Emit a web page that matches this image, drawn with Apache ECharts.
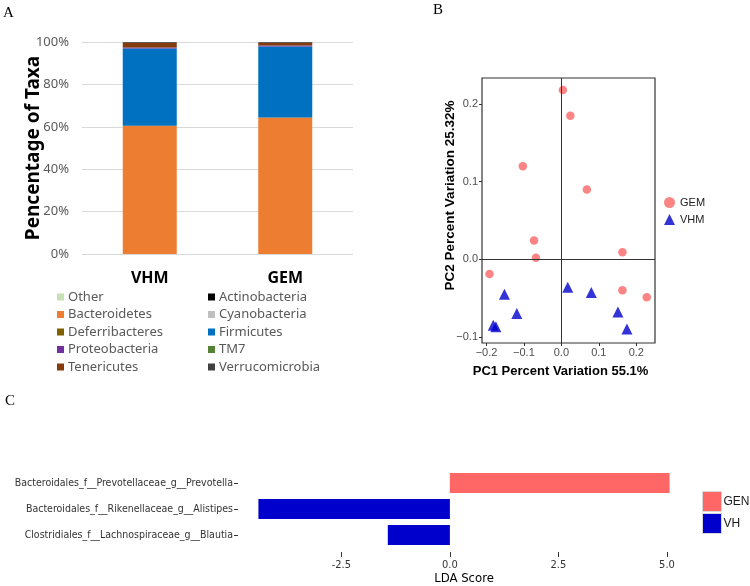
<!DOCTYPE html>
<html><head><meta charset="utf-8">
<script src="https://cdn.jsdelivr.net/npm/echarts@6/dist/echarts.min.js"></script>
<style>html,body{margin:0;padding:0;background:#fff}#c{width:750px;height:586px}</style>
</head><body><div id="c"></div>
<script>
// ---- Panel A data ----
const groupsA = ['VHM', 'GEM'];
const taxa = ['Other', 'Actinobacteria', 'Bacteroidetes', 'Cyanobacteria', 'Deferribacteres',
  'Firmicutes', 'Proteobacteria', 'TM7', 'Tenericutes', 'Verrucomicrobia'];
const taxaVHM = [0, 0.05, 60.3, 0.05, 0.1, 36.4, 0.5, 0.05, 2.2, 0.35];
const taxaGEM = [0, 0.05, 64.2, 0.05, 0.1, 33.5, 0.4, 0.05, 1.3, 0.35];
const legendLeftCol = ['Other', 'Bacteroidetes', 'Deferribacteres', 'Proteobacteria', 'Tenericutes'];
const legendRightCol = ['Actinobacteria', 'Cyanobacteria', 'Firmicutes', 'TM7', 'Verrucomicrobia'];

// ---- Panel B data ----
const gemPC1 = [0.004, 0.024, -0.103, 0.068, -0.073, -0.068, 0.163, -0.192, 0.163, 0.228];
const gemPC2 = [0.218, 0.185, 0.120, 0.090, 0.024, 0.002, 0.009, -0.019, -0.040, -0.049];
const vhmPC1 = [-0.152, -0.119, -0.182, -0.175, 0.017, 0.080, 0.151, 0.175];
const vhmPC2 = [-0.045, -0.070, -0.085, -0.087, -0.036, -0.043, -0.068, -0.090];
const pcTicksX = [-0.2, -0.1, 0.0, 0.1, 0.2];
const pcTicksY = [-0.1, 0.0, 0.1, 0.2];

// ---- Panel C data ----
const ldaTaxa = ['Bacteroidales_f__Prevotellaceae_g__Prevotella',
  'Bacteroidales_f__Rikenellaceae_g__Alistipes',
  'Clostridiales_f__Lachnospiraceae_g__Blautia'];
const ldaScores = [5.06, -4.41, -1.43];
const ldaClass = ['GEN', 'VH', 'VH'];
const ldaTicks = [-2.5, 0.0, 2.5, 5.0];

// ---- styles ----
const taxaColors = {
  'Other': '#C5E0B4', 'Actinobacteria': '#000000', 'Bacteroidetes': '#ED7D31',
  'Cyanobacteria': '#BFBFBF', 'Deferribacteres': '#7F6000', 'Firmicutes': '#0070C0',
  'Proteobacteria': '#7030A0', 'TM7': '#548235', 'Tenericutes': '#843C0C',
  'Verrucomicrobia': '#404040'
};
const RED = '#FA6767', BLUE = '#0000CC';
const fmtMinus = v => (v < 0 ? '\u2212' : '') + Math.abs(v).toFixed(1);
const letterStyle = {fontFamily: 'Liberation Serif', fontSize: 15, fontWeight: 'normal', color: '#000'};
const hiddenLine = {show: true, onZero: false, lineStyle: {color: 'rgba(0,0,0,0)', width: 0}};

const chart = echarts.init(document.getElementById('c'), null, {renderer: 'canvas'});

const seriesA = taxa.map((t, i) => ({
  name: t, type: 'bar', stack: 'taxa', xAxisIndex: 0, yAxisIndex: 0,
  barWidth: 54, itemStyle: {color: taxaColors[t]},
  data: [taxaVHM[i], taxaGEM[i]]
}));

const legendA = (names, left) => ({
  data: names, orient: 'vertical', left: left, top: 290, padding: 0, icon: 'rect',
  itemWidth: 7, itemHeight: 7, itemGap: 3.5, selectedMode: false,
  textStyle: {fontFamily: 'Noto Sans', fontSize: 13, color: '#595959', padding: [0, 0, 0, -1], lineHeight: 14}
});

const option = {
  animation: false,
  backgroundColor: '#fff',
  title: [
    {text: 'A', left: 3, top: 6, padding: 0, textStyle: letterStyle},
    {text: 'B', left: 433, top: 3, padding: 0, textStyle: letterStyle},
    {text: 'C', left: 5, top: 394, padding: 0, textStyle: letterStyle}
  ],
  legend: [
    legendA(legendLeftCol, 57),
    legendA(legendRightCol, 208),
    {data: ['GEM', 'VHM'], orient: 'vertical', left: 664, top: 197, padding: 0, itemWidth: 11, itemHeight: 11, itemGap: 6,
      selectedMode: false, textStyle: {fontFamily: 'Liberation Sans', fontSize: 11, color: '#222'}},
    {data: ['GEN', 'VH'], orient: 'vertical', left: 702, top: 491, padding: 0, icon: 'rect', itemWidth: 19, itemHeight: 20, itemGap: 1,
      selectedMode: false, itemStyle: {borderColor: '#d8d8d8', borderWidth: 1},
      textStyle: {fontFamily: 'Liberation Sans', fontSize: 12, color: '#1a1a1a', padding: [0, 0, 0, -3]}}
  ],
  grid: [
    {left: 82, top: 42, width: 271, height: 212},
    {left: 482, top: 78, width: 173, height: 265, show: true, borderColor: '#333', borderWidth: 1.2},
    {left: 238, top: 470, width: 452, height: 78}
  ],
  xAxis: [
    {type: 'category', gridIndex: 0, data: groupsA,
      axisLine: {show: false, onZero: false}, axisTick: {show: false},
      axisLabel: {margin: 16, fontFamily: 'Noto Sans', fontWeight: 'bold', fontSize: 16, color: '#000'}},
    {type: 'value', gridIndex: 1, min: -0.212, max: 0.25,
      axisLine: hiddenLine, splitLine: {show: false},
      axisTick: {show: true, length: 3, customValues: pcTicksX, lineStyle: {color: '#333'}},
      axisLabel: {customValues: pcTicksX, formatter: fmtMinus, margin: 4, fontFamily: 'Liberation Sans', fontSize: 11, color: '#4d4d4d'},
      name: 'PC1 Percent Variation 55.1%', nameLocation: 'middle', nameGap: 22, nameMoveOverlap: false,
      nameTextStyle: {fontFamily: 'Liberation Sans', fontWeight: 'bold', fontSize: 13, color: '#000', padding: [0, 16, 0, 0]}},
    {type: 'value', gridIndex: 2, min: -4.88, max: 5.53, offset: 4,
      axisLine: hiddenLine, splitLine: {show: false},
      axisTick: {show: true, length: 5, customValues: ldaTicks, lineStyle: {color: '#333', width: 1}},
      axisLabel: {customValues: ldaTicks, formatter: v => v.toFixed(1), margin: 8,
        fontFamily: 'Liberation Sans Narrow, DejaVu Sans Condensed', fontSize: 11, color: '#333'},
      name: 'LDA Score', nameLocation: 'middle', nameGap: 20, nameMoveOverlap: false,
      nameTextStyle: {fontFamily: 'Liberation Sans Narrow, DejaVu Sans Condensed', fontSize: 13, color: '#000'}}
  ],
  yAxis: [
    {type: 'value', gridIndex: 0, min: 0, max: 100, interval: 20,
      axisLine: {show: false, onZero: false}, axisTick: {show: false},
      splitLine: {lineStyle: {color: '#D9D9D9', width: 1}},
      axisLabel: {formatter: '{value}%', margin: 13, fontFamily: 'Noto Sans', fontSize: 13, color: '#595959'},
      name: 'Pencentage of Taxa', nameLocation: 'middle', nameGap: 39, nameMoveOverlap: false,
      nameTextStyle: {fontFamily: 'Noto Sans', fontWeight: 'bold', fontSize: 19, color: '#000'}},
    {type: 'value', gridIndex: 1, min: -0.108, max: 0.2336,
      axisLine: hiddenLine, splitLine: {show: false},
      axisTick: {show: true, length: 3, customValues: pcTicksY, lineStyle: {color: '#333'}},
      axisLabel: {customValues: pcTicksY, formatter: fmtMinus, margin: 4, fontFamily: 'Liberation Sans', fontSize: 11, color: '#4d4d4d'},
      name: 'PC2 Percent Variation 25.32%', nameLocation: 'middle', nameGap: 25, nameMoveOverlap: false,
      nameTextStyle: {fontFamily: 'Liberation Sans', fontWeight: 'bold', fontSize: 13.5, color: '#000', padding: [0, 0, 0, 30]}},
    {type: 'category', gridIndex: 2, data: ldaTaxa, inverse: true,
      axisLine: hiddenLine, splitLine: {show: false},
      axisTick: {show: true, length: 4, alignWithLabel: true, lineStyle: {color: '#333'}},
      axisLabel: {margin: 5, fontFamily: 'Liberation Sans Narrow, DejaVu Sans Condensed', fontSize: 10.5, color: '#333'}}
  ],
  series: [
    ...seriesA,
    {name: 'GEM', type: 'scatter', xAxisIndex: 1, yAxisIndex: 1, symbol: 'circle', symbolSize: 8.5,
      itemStyle: {color: RED}, data: gemPC1.map((x, i) => [x, gemPC2[i]]),
      markLine: {silent: true, symbol: 'none', label: {show: false},
        lineStyle: {color: '#333', width: 1, type: 'solid'},
        data: [{xAxis: 0}, {yAxis: 0}]}},
    {name: 'VHM', type: 'scatter', xAxisIndex: 1, yAxisIndex: 1, symbol: 'triangle', symbolSize: 11,
      itemStyle: {color: BLUE}, data: vhmPC1.map((x, i) => [x, vhmPC2[i]])},
    {name: 'GEN', type: 'bar', stack: 'lda', xAxisIndex: 2, yAxisIndex: 2, barWidth: 20,
      itemStyle: {color: '#FF6666'}, data: ldaScores.map((v, i) => ldaClass[i] === 'GEN' ? v : '-')},
    {name: 'VH', type: 'bar', stack: 'lda', xAxisIndex: 2, yAxisIndex: 2, barWidth: 20,
      itemStyle: {color: '#0000CC'}, data: ldaScores.map((v, i) => ldaClass[i] === 'VH' ? v : '-')}
  ]
};
chart.setOption(option);
</script></body></html>
